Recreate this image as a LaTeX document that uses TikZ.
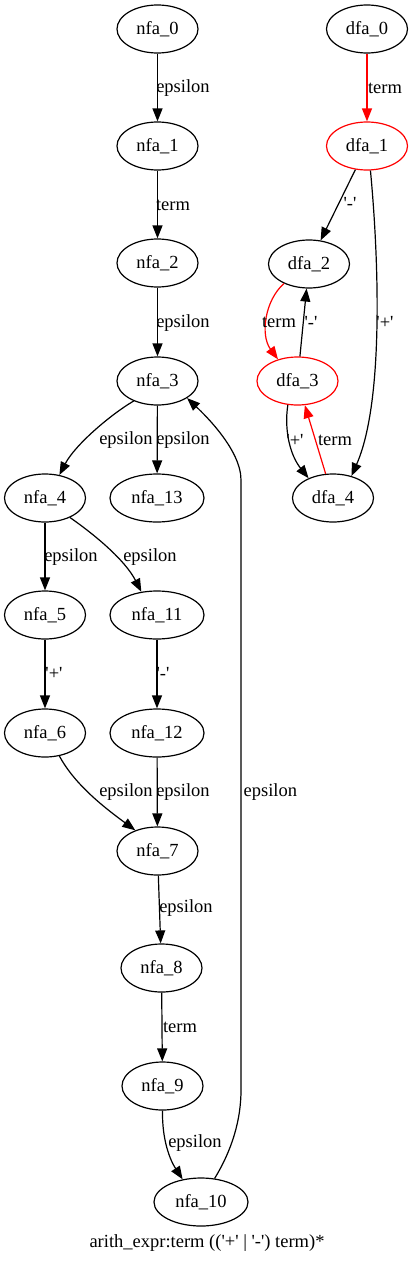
\documentclass[tikz,border=0pt]{standalone}
\usepackage{fontspec}
\setmainfont{Liberation Serif}
\usetikzlibrary{shapes.geometric,arrows.meta}
\newcommand{\sq}{\textquotesingle}
\begin{document}
\begin{tikzpicture}[x=1pt,y=-1pt,
  st/.style={ellipse,draw,line width=1.2pt,minimum width=81pt,minimum height=48pt,inner sep=0pt,font=\fontsize{18.5}{20}\selectfont},
  wide/.style={minimum width=94pt},
  hot/.style={draw=red},
  lbl/.style={inner sep=0pt,font=\fontsize{18.5}{20}\selectfont},
  edge/.style={draw,line width=1.2pt,-{Triangle[length=13pt,width=10pt]}},
  redge/.style={edge,red}]
\path[use as bounding box] (0,0) rectangle (415,1263);
% NFA nodes
\node[st] (n0) at (157.5,29) {nfa\_0};
\node[st] (n1) at (157.5,146) {nfa\_1};
\node[st] (n2) at (157.5,263) {nfa\_2};
\node[st] (n3) at (157.5,381) {nfa\_3};
\node[st] (n4) at (45,498) {nfa\_4};
\node[st,wide] (n13) at (157,498) {nfa\_13};
\node[st] (n5) at (45,615) {nfa\_5};
\node[st,wide] (n11) at (157,615) {nfa\_11};
\node[st] (n6) at (45,733) {nfa\_6};
\node[st,wide] (n12) at (157,733) {nfa\_12};
\node[st] (n7) at (157.5,851) {nfa\_7};
\node[st] (n8) at (161.5,968) {nfa\_8};
\node[st] (n9) at (162.5,1086) {nfa\_9};
\node[st,wide] (n10) at (201,1202) {nfa\_10};
% DFA nodes
\node[st] (d0) at (367,29) {dfa\_0};
\node[st,hot] (d1) at (367,146) {dfa\_1};
\node[st] (d2) at (309,264) {dfa\_2};
\node[st,hot] (d3) at (297.5,381) {dfa\_3};
\node[st] (d4) at (333,498) {dfa\_4};
% NFA edges
\draw[edge] (n0) -- (n1) node[lbl] at (183,88) {epsilon};
\draw[edge] (n1) -- (n2) node[lbl] at (173,205) {term};
\draw[edge] (n2) -- (n3) node[lbl] at (183,323) {epsilon};
\draw[edge] (n3.220) .. controls (110,415) and (75,445) .. (n4.58) node[lbl] at (126,440) {epsilon};
\draw[edge] (n3) -- (n13) node[lbl] at (183,440) {epsilon};
\draw[edge] (n4) -- (n5) node[lbl] at (71,557) {epsilon};
\draw[edge] (n4.322) .. controls (95,535) and (125,560) .. (n11.124) node[lbl] at (150,557) {epsilon};
\draw[edge] (n5) -- (n6) node[lbl] at (54,673) {\sq+\sq};
\draw[edge] (n11) -- (n12) node[lbl] at (163,673) {\sq-\sq};
\draw[edge] (n6.302) .. controls (75,785) and (105,808) .. (n7.137) node[lbl] at (126,792) {epsilon};
\draw[edge] (n12) -- (n7) node[lbl] at (183,792) {epsilon};
\draw[edge] (n7) -- (n8) node[lbl] at (186,908) {epsilon};
\draw[edge] (n8) -- (n9) node[lbl] at (180,1027) {term};
\draw[edge] (n9.south) .. controls (162,1140) and (170,1160) .. (n10.129) node[lbl] at (195,1143) {epsilon};
\draw[edge] (n10.60) .. controls (232,1150) and (241,1120) .. (241,1090) -- (241,480) .. controls (241,450) and (205,415) .. (n3.330) node[lbl,anchor=west] at (243,792) {epsilon};
% DFA edges
\draw[redge] (d0) -- (d1) node[lbl,black] at (385,88) {term};
\draw[edge] (d1) -- (d2) node[lbl] at (350,203) {\sq-\sq};
\draw[edge] (d1.278) .. controls (378,250) and (385,400) .. (d4.50) node[lbl] at (385,322) {\sq+\sq};
\draw[redge] (d2.218) .. controls (265,300) and (260,335) .. (d3.132) node[lbl,black] at (279,322) {term};
\draw[edge] (d3) -- (d2) node[lbl] at (311,322) {\sq-\sq};
\draw[edge] (d3.248) .. controls (284,430) and (290,455) .. (d4.141) node[lbl] at (295,440) {\sq+\sq};
\draw[redge] (d4) -- (d3) node[lbl,black] at (335,440) {term};
% caption
\node[lbl] (cap) at (207,1243) {arith\_expr:term ((\sq+\sq\ | \sq-\sq) term)*};
\end{tikzpicture}
\end{document}
